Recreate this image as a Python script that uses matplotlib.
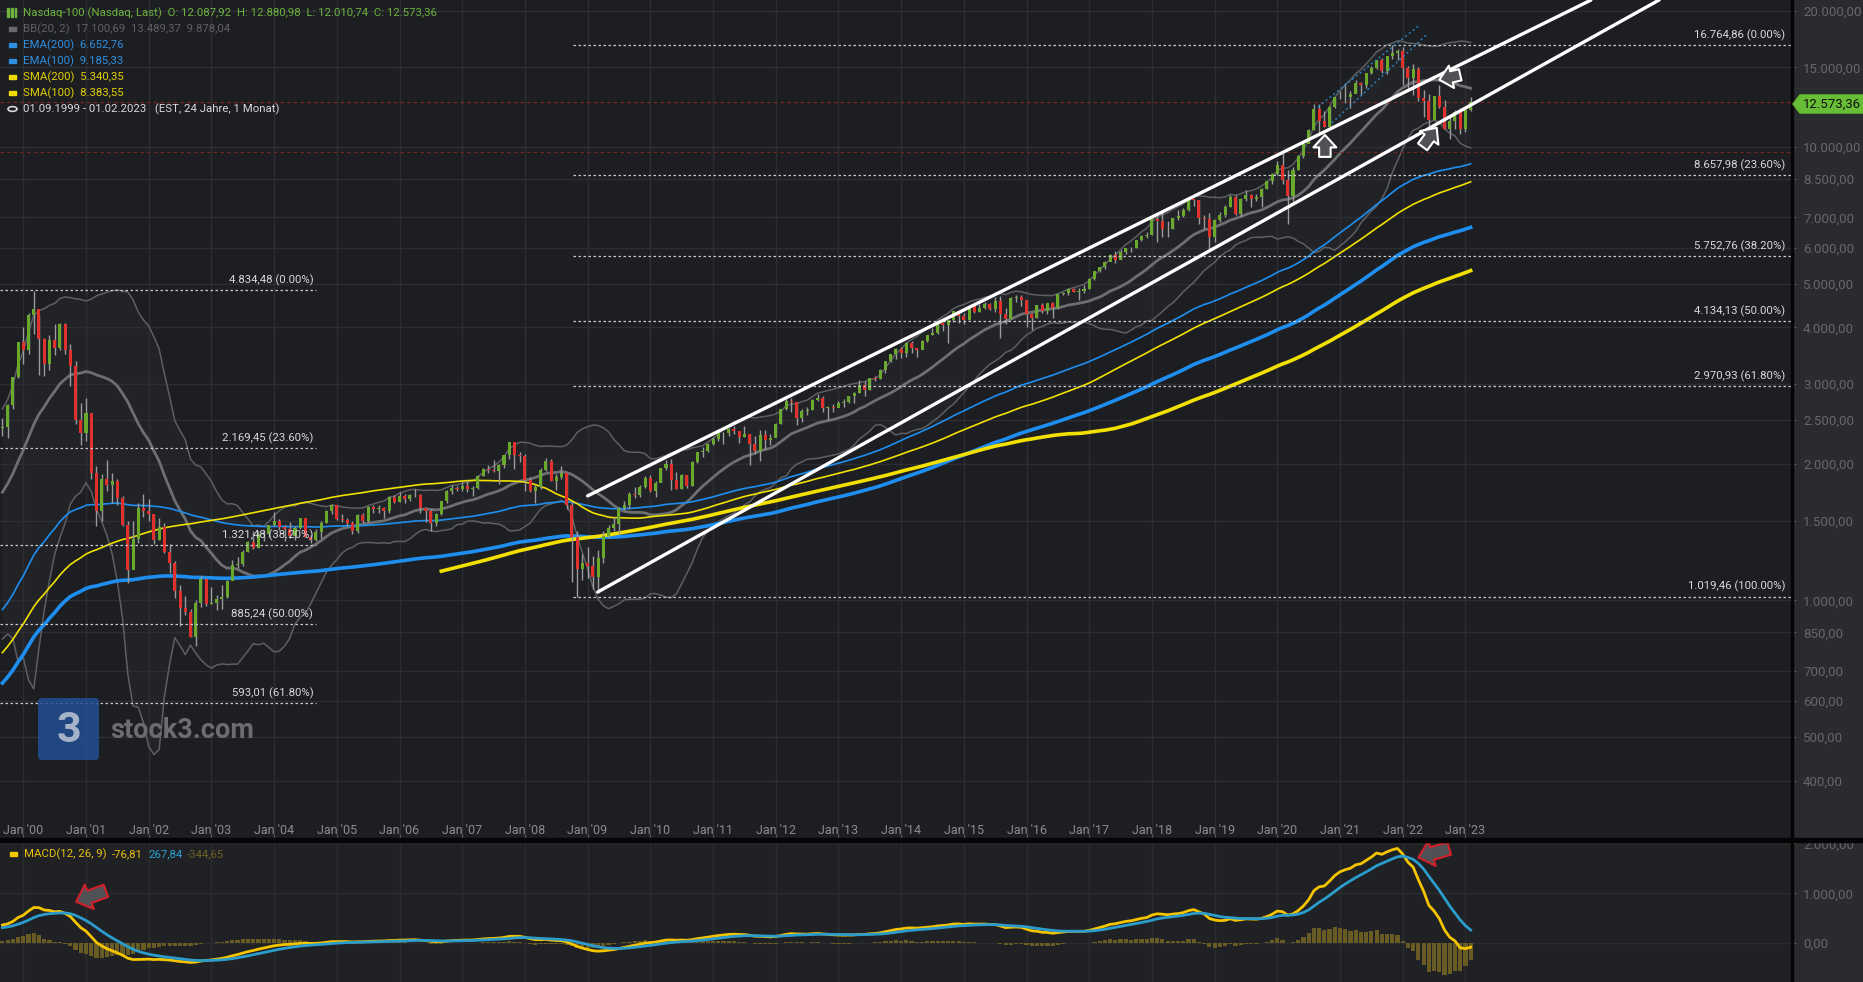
import numpy as np
import pandas as pd
import matplotlib
matplotlib.use("Agg")
import matplotlib.pyplot as plt
from matplotlib.patches import Rectangle, FancyBboxPatch, Circle, Polygon
from matplotlib.ticker import FixedLocator, NullLocator, FuncFormatter

plt.rcParams["font.family"] = ["Roboto", "DejaVu Sans"]

# monthly closes Feb 1990 - Aug 1999, only used to warm up the indicators
close_pre = [
    210, 218, 212, 240, 245, 230, 200, 180, 172, 190, 200,
    225, 245, 258, 255, 265, 245, 262, 275, 272, 285, 280, 330,
    345, 345, 320, 305, 310, 290, 305, 295, 310, 325, 350, 360,
    365, 345, 355, 335, 360, 365, 355, 375, 385, 390, 385, 398,
    415, 410, 385, 380, 380, 355, 365, 390, 395, 415, 400, 405,
    410, 435, 455, 480, 500, 555, 590, 595, 610, 610, 605, 576,
    580, 600, 600, 650, 680, 662, 610, 640, 715, 740, 800, 821,
    905, 830, 785, 860, 945, 955, 1080, 1055, 1085, 1005, 1035, 991,
    1070, 1180, 1220, 1250, 1190, 1338, 1360, 1140, 1345, 1420, 1595, 1836,
    2127, 1948, 2106, 2137, 2091, 2296, 2267, 2396,
]

# Nasdaq-100 monthly candles Sep 1999 - Feb 2023
close = [
    2407, 2697, 3110, 3708,
    3570, 4267, 4397, 3774, 3324, 3763, 3610, 4077, 3570, 3283, 2506, 2341,
    2593, 1908, 1573, 1855, 1799, 1830, 1683, 1469, 1168, 1364, 1596, 1577,
    1550, 1359, 1452, 1277, 1208, 1051, 963, 942, 832, 989, 1116, 984,
    985, 1009, 1018, 1106, 1198, 1201, 1280, 1343, 1304, 1400, 1404, 1468,
    1494, 1452, 1438, 1387, 1444, 1516, 1383, 1361, 1412, 1485, 1573, 1622,
    1515, 1503, 1483, 1425, 1543, 1494, 1605, 1589, 1601, 1578, 1688, 1645,
    1701, 1673, 1704, 1704, 1602, 1575, 1480, 1547, 1655, 1743, 1769, 1757,
    1786, 1757, 1772, 1881, 1946, 1935, 1930, 1990, 2091, 2239, 2090, 2085,
    1841, 1742, 1781, 1943, 2032, 1837, 1872, 1906, 1621, 1379, 1173, 1212,
    1188, 1126, 1237, 1384, 1444, 1477, 1600, 1626, 1719, 1712, 1783, 1860,
    1741, 1818, 1959, 2004, 1845, 1765, 1886, 1785, 2023, 2127, 2132, 2218,
    2267, 2340, 2339, 2394, 2366, 2292, 2330, 2208, 2138, 2322, 2264, 2278,
    2453, 2645, 2755, 2741, 2531, 2616, 2631, 2773, 2800, 2652, 2667, 2661,
    2732, 2738, 2818, 2868, 2985, 2910, 3094, 3074, 3218, 3372, 3488, 3592,
    3521, 3697, 3596, 3563, 3737, 3850, 3896, 4083, 4050, 4159, 4348, 4236,
    4151, 4451, 4334, 4415, 4509, 4397, 4574, 4274, 4181, 4648, 4665, 4593,
    4280, 4202, 4484, 4341, 4524, 4418, 4730, 4772, 4875, 4801, 4811, 4864,
    5118, 5330, 5436, 5584, 5788, 5647, 5880, 5989, 5979, 6248, 6358, 6397,
    6950, 6854, 6582, 6605, 6967, 7040, 7272, 7677, 7628, 6967, 6949, 6330,
    6907, 7096, 7378, 7781, 7128, 7672, 7848, 7692, 7750, 8083, 8403, 8733,
    9151, 8462, 7813, 8890, 9555, 10157, 10905, 12110, 11418, 11052, 12268, 12888,
    12925, 12909, 13091, 13861, 13687, 14554, 14960, 15582, 14689, 15850, 16135, 16320,
    14931, 14237, 14838, 12855, 12642, 11503, 12948, 12272, 10971, 11406, 11951, 10940,
    12102, 12573,
]
high = [
    2530, 2715, 3115, 3710,
    4013, 4300, 4816, 4291, 3800, 3850, 4080, 4100, 4100, 3680, 3370, 2730,
    2800, 2580, 1980, 1900, 2040, 1907, 1850, 1700, 1500, 1500, 1640, 1720,
    1670, 1550, 1520, 1480, 1330, 1220, 1080, 1020, 955, 1000, 1130, 1120,
    1070, 1030, 1080, 1110, 1230, 1245, 1290, 1350, 1422, 1420, 1430, 1470,
    1565, 1515, 1470, 1490, 1460, 1521, 1500, 1395, 1440, 1500, 1585, 1630,
    1625, 1550, 1520, 1500, 1550, 1560, 1615, 1620, 1620, 1610, 1700, 1710,
    1730, 1720, 1720, 1758, 1715, 1610, 1590, 1560, 1660, 1748, 1795, 1785,
    1820, 1830, 1790, 1890, 1955, 1990, 2040, 1995, 2095, 2239, 2215, 2130,
    2100, 1870, 1795, 1960, 2066, 2050, 1900, 1980, 1905, 1650, 1420, 1265,
    1310, 1250, 1290, 1420, 1470, 1530, 1605, 1660, 1735, 1780, 1800, 1880,
    1895, 1830, 1960, 2040, 2050, 1920, 1900, 1890, 2030, 2130, 2180, 2220,
    2290, 2380, 2350, 2400, 2430, 2370, 2420, 2330, 2300, 2380, 2380, 2330,
    2460, 2650, 2780, 2795, 2735, 2640, 2665, 2785, 2860, 2825, 2685, 2710,
    2750, 2775, 2820, 2880, 3060, 3040, 3100, 3120, 3240, 3373, 3492, 3600,
    3625, 3710, 3740, 3610, 3750, 3850, 3999, 4083, 4120, 4160, 4350, 4350,
    4300, 4470, 4480, 4500, 4550, 4530, 4680, 4690, 4420, 4660, 4720, 4720,
    4590, 4300, 4490, 4530, 4530, 4560, 4740, 4800, 4900, 4900, 4880, 4965,
    5150, 5340, 5450, 5605, 5800, 5900, 5930, 6000, 6010, 6250, 6400, 6490,
    7020, 7030, 7180, 6860, 6980, 7280, 7330, 7690, 7700, 7630, 7080, 7150,
    6950, 7190, 7450, 7850, 7850, 7720, 8030, 7880, 7900, 8110, 8420, 8780,
    9300, 9720, 8920, 9050, 9600, 10300, 10990, 12430, 12440, 12000, 12300, 12900,
    13300, 13880, 13300, 14060, 13950, 14580, 15080, 15600, 15700, 15850, 16770, 16500,
    16600, 15100, 15270, 15000, 13380, 13100, 12990, 13720, 12700, 11700, 12050, 12170,
    12170, 12881,
]
low = [
    2300, 2280, 2650, 3100,
    3330, 3500, 3870, 3150, 3120, 3230, 3480, 3560, 3500, 2970, 2450, 2200,
    2250, 1850, 1460, 1500, 1740, 1640, 1620, 1460, 1090, 1170, 1340, 1530,
    1500, 1330, 1360, 1270, 1150, 1010, 880, 930, 830, 795, 965, 970,
    980, 950, 955, 1010, 1110, 1180, 1190, 1280, 1300, 1302, 1350, 1380,
    1460, 1430, 1350, 1370, 1360, 1440, 1380, 1340, 1355, 1370, 1480, 1550,
    1505, 1490, 1460, 1400, 1405, 1480, 1490, 1560, 1560, 1520, 1560, 1640,
    1645, 1640, 1660, 1690, 1560, 1490, 1425, 1462, 1540, 1640, 1720, 1740,
    1740, 1735, 1700, 1765, 1880, 1910, 1920, 1810, 1960, 2050, 1950, 2020,
    1740, 1730, 1640, 1760, 1930, 1830, 1755, 1850, 1590, 1100, 1018, 1110,
    1120, 1060, 1040, 1210, 1370, 1420, 1400, 1580, 1590, 1680, 1690, 1770,
    1730, 1690, 1820, 1940, 1750, 1760, 1760, 1770, 1790, 2010, 2070, 2130,
    2200, 2250, 2210, 2310, 2325, 2220, 2290, 1990, 2100, 2030, 2160, 2200,
    2300, 2450, 2630, 2600, 2440, 2480, 2560, 2630, 2750, 2600, 2500, 2600,
    2670, 2670, 2720, 2730, 2865, 2830, 2905, 3050, 3080, 3178, 3350, 3400,
    3420, 3450, 3520, 3440, 3580, 3720, 3850, 3870, 3930, 3700, 4120, 4100,
    4080, 4150, 4300, 4330, 4400, 4380, 4320, 3790, 4080, 4170, 4560, 4460,
    4000, 3950, 4200, 4300, 4280, 4200, 4400, 4720, 4720, 4780, 4610, 4770,
    4870, 5100, 5300, 5380, 5600, 5550, 5660, 5800, 5880, 6000, 6210, 6300,
    6400, 6170, 6350, 6350, 6600, 6900, 7000, 7240, 7430, 6780, 6590, 5900,
    6180, 6850, 7000, 7380, 7070, 7000, 7600, 7370, 7600, 7360, 8090, 8300,
    8700, 8300, 6770, 7620, 8900, 9470, 10280, 10900, 10800, 11050, 11000, 12200,
    12750, 12500, 12200, 13180, 13000, 13500, 14470, 14880, 14600, 14500, 15670, 15550,
    13720, 13300, 13020, 12650, 11650, 11040, 11480, 12200, 10970, 10440, 10990, 10670,
    10780, 12011,
]

# fibonacci retracements drawn on the chart
fib_left_vals = [4834.48, 2169.45, 1321.48, 885.24, 593.01]
fib_left_pct = ["0.00%", "23.60%", "38.20%", "50.00%", "61.80%"]
fib_right_vals = [16764.86, 8657.98, 5752.76, 4134.13, 2970.93, 1019.46]
fib_right_pct = ["0.00%", "23.60%", "38.20%", "50.00%", "61.80%", "100.00%"]

# trend channel anchors (decimal year, price)
chan_up = [(2009.0, 1700), (2025.0, 21100)]
chan_lo = [(2009.16, 1043), (2026.09, 21120)]
blue_up = [(2020.65, 12270), (2022.27, 18600)]
blue_lo = [(2020.87, 11310), (2022.38, 17690)]

last_price = 12573.36
yticks_main = [400, 500, 600, 700, 850, 1000, 1500, 2000, 2500, 3000, 4000,
               5000, 6000, 7000, 8500, 10000, 15000, 20000]
yticks_macd = [0, 1000, 2000]

BG = "#1c1e22"
BG_MACD = "#202124"
STRIP = "#2a2b2f"
GRID = "#2c2e33"
GREEN = "#6aa92c"
RED = "#e2312d"
BLUE = "#1e8ff0"
YELLOW = "#f2e000"
W, H = 1863, 982


def de(v, pos=None):
    s = f"{v:,.2f}"
    return s.replace(",", "X").replace(".", ",").replace("X", ".")


def m(year):
    return (year - 2000) * 12


# ---- indicators from the closes
n_pre = len(close_pre)
s = pd.Series(close_pre + close, dtype=float)
xs_all = np.arange(len(s)) - n_pre - 4
sma100 = s.rolling(100).mean()
sma200 = s.rolling(200).mean()
ema100 = s.ewm(span=100, adjust=False).mean()
ema200 = s.ewm(span=200, adjust=False).mean()
bb_mid = s.rolling(20).mean()
bb_sd = s.rolling(20).std(ddof=0)
bb_up = bb_mid + 2 * bb_sd
bb_lo = bb_mid - 2 * bb_sd
macd = s.ewm(span=12, adjust=False).mean() - s.ewm(span=26, adjust=False).mean()
signal = macd.ewm(span=9, adjust=False).mean()
hist = macd - signal

vis = slice(n_pre, None)
x = xs_all[vis]
c = np.array(close, float)
o = s.values[n_pre - 1:-1]
hi = np.array(high, float)
lo = np.array(low, float)

# ---- figure layout
fig = plt.figure(figsize=(W / 100, H / 100), dpi=100, facecolor=STRIP)
ax = fig.add_axes([0, 1 - 838 / H, 1792 / W, 838 / H])
mx = fig.add_axes([0, 0, 1792 / W, 141 / H])
ax.set_facecolor(BG)
mx.set_facecolor(BG_MACD)
XL = (-4.46, 338.5)

# ---- main panel
ax.set_yscale("log")
ax.set_xlim(*XL)
ax.set_ylim(299, 21115)

ax.fill_between(x, bb_lo[vis], bb_up[vis], color="white", alpha=0.025, lw=0, zorder=1)
ax.plot(x, bb_up[vis], color="#5d5f62", lw=1.1, zorder=2)
ax.plot(x, bb_lo[vis], color="#5d5f62", lw=1.1, zorder=2)
ax.plot(x, bb_mid[vis], color="#6e6f71", lw=2.0, zorder=2)

ax.plot(x, ema200[vis], color=BLUE, lw=2.6, zorder=3)
ax.plot(x, ema100[vis], color=BLUE, lw=1.2, zorder=3)
ax.plot(x, sma200[vis], color=YELLOW, lw=2.6, zorder=3)
ax.plot(x, sma100[vis], color=YELLOW, lw=1.2, zorder=3)

up = c >= o
ax.vlines(x, lo, hi, color="#9a9b9d", lw=1.0, zorder=4)
ax.bar(x[up], (c - o)[up], bottom=o[up], width=0.58, color=GREEN, zorder=5)
ax.bar(x[~up], (o - c)[~up], bottom=c[~up], width=0.58, color=RED, zorder=5)

# fibonacci lines
left_end = m(2004.67)
for v, p in zip(fib_left_vals, fib_left_pct):
    ax.hlines(v, XL[0], left_end, colors="#c9cacc", lw=0.9, linestyles=(0, (2, 2)), zorder=6)
    ax.annotate(f"{de(v)} ({p})", (left_end, v), xytext=(-2, 3), textcoords="offset points",
                ha="right", va="bottom", color="#d8d9db", fontsize=8.2, zorder=7)
right_start = m(2008.76)
for v, p in zip(fib_right_vals, fib_right_pct):
    ax.hlines(v, right_start, XL[1], colors="#c9cacc", lw=0.9, linestyles=(0, (2, 2)), zorder=6)
    ax.annotate(f"{de(v)} ({p})", (1, v), xycoords=("axes fraction", "data"), xytext=(-5, 3),
                textcoords="offset points", ha="right", va="bottom", color="#d8d9db",
                fontsize=8.2, zorder=7)

# price lines
ax.axhline(last_price, color="#8c2626", lw=0.8, ls=(0, (3, 3)), zorder=2)
ax.axhline(9760, color="#7a2424", lw=0.8, ls=(0, (3, 3)), zorder=2)

# channels
for (y0, p0), (y1, p1) in (chan_up, chan_lo):
    ax.plot([m(y0), m(y1)], [p0, p1], color="white", lw=2.4, zorder=8, solid_capstyle="round")
for (y0, p0), (y1, p1) in (blue_up, blue_lo):
    ax.plot([m(y0), m(y1)], [p0, p1], color="#2b86c8", lw=1.0, ls=(0, (1.5, 2)), zorder=6)


def block_arrow(a, tail, tip, fc, ec, ms):
    a.annotate("", xy=tip, xytext=tail, annotation_clip=False, zorder=9,
               arrowprops=dict(arrowstyle="simple,head_length=0.6,head_width=1.1,tail_width=0.55",
                               fc=fc, ec=ec, lw=1.5, shrinkA=0, shrinkB=0, mutation_scale=ms))


block_arrow(ax, (249.1, 9515), (249.1, 10640), "#505155", "white", 15)
block_arrow(ax, (275.0, 14440), (271.0, 14085), "#505155", "white", 15)
block_arrow(ax, (267.8, 10015), (270.5, 11030), "#505155", "white", 15)

# axes styling
ax.yaxis.set_major_locator(FixedLocator(yticks_main))
ax.yaxis.set_minor_locator(NullLocator())
ax.yaxis.set_major_formatter(FuncFormatter(de))
ax.yaxis.tick_right()
ax.tick_params(axis="y", direction="out", length=3, pad=5, labelsize=9.5,
               colors="#55575c", labelcolor="#65676c")
ax.set_xticks(range(0, 277, 12))
ax.set_xticklabels([f"Jan '{(2000 + i) % 100:02d}" for i in range(24)])
ax.tick_params(axis="x", direction="in", length=3, pad=-10, labelsize=9,
               colors="#55575c", labelcolor="#8a8c90")
ax.grid(True, color=GRID, lw=1.0, zorder=0)
for sp in ax.spines.values():
    sp.set_visible(False)

# price tag on the axis strip
ty = 1 - 104 / H
fig.add_artist(Polygon(
    [(1793 / W, ty), (1800 / W, ty + 9 / H), (1863 / W, ty + 9 / H),
     (1863 / W, ty - 9 / H), (1800 / W, ty - 9 / H)],
    closed=True, transform=fig.transFigure, color="#67bd35", zorder=12))
fig.text(1832 / W, ty, de(last_price), ha="center", va="center", fontsize=9.5,
         color="#111111", zorder=13)

# ---- MACD panel
mx.set_xlim(*XL)
mx.set_ylim(-777, 2050)
mx.bar(x, hist[vis], width=0.8, color="#6d6024", alpha=0.95, zorder=2)
mx.plot(x, macd[vis], color="#f5c400", lw=2.0, zorder=3)
mx.plot(x, signal[vis], color="#2b9ccc", lw=2.0, zorder=3)
mx.yaxis.set_major_locator(FixedLocator(yticks_macd))
mx.yaxis.set_major_formatter(FuncFormatter(de))
mx.yaxis.tick_right()
mx.tick_params(axis="y", direction="out", length=3, pad=5, labelsize=9.5,
               colors="#55575c", labelcolor="#65676c")
mx.set_xticks(range(0, 277, 12))
mx.tick_params(axis="x", length=0, labelbottom=False)
mx.grid(True, color="#2b2c30", lw=1.0, zorder=0)
for sp in mx.spines.values():
    sp.set_visible(False)
block_arrow(mx, (15.8, 1052), (10.1, 832), "#505155", "#d0202a", 17)
block_arrow(mx, (272.9, 1900), (267.0, 1720), "#505155", "#d0202a", 17)

# separators
fig.add_artist(Rectangle((0, 1 - 842 / H), 1, 4 / H, transform=fig.transFigure, color="#050505", zorder=10))
fig.add_artist(Rectangle((1791 / W, 0), 2 / W, 1, transform=fig.transFigure, color="#050505", zorder=10))


# ---- legend texts
def ftxt(px, py, t, col, size=8.2, **kw):
    fig.text(px / W, 1 - py / H, t, color=col, fontsize=size, va="center", ha="left", zorder=13, **kw)


def dash(px, py, col):
    fig.add_artist(Rectangle((px / W, 1 - (py + 2) / H), 7 / W, 4 / H,
                             transform=fig.transFigure, color=col, zorder=10))


for xx in [7.5, 11, 14.5]:
    fig.add_artist(Rectangle((xx / W, 1 - 17 / H), 1.6 / W, 9 / H, transform=fig.transFigure,
                             color="#6db33f", zorder=10))
ftxt(23, 13, "Nasdaq-100 (Nasdaq, Last)  O: 12.087,92  H: 12.880,98  L: 12.010,74  C: 12.573,36", "#6db33f")
dash(9, 29, "#6a6b6e")
ftxt(23, 29, "BB(20, 2)  17.100,69  13.489,37  9.878,04", "#5e6064")
dash(9, 45, "#2f8fe0")
ftxt(23, 45, "EMA(200)  6.652,76", "#2f8fe0")
dash(9, 61, "#2f8fe0")
ftxt(23, 61, "EMA(100)  9.185,33", "#2f8fe0")
dash(9, 77, "#f0dc00")
ftxt(23, 77, "SMA(200)  5.340,35", "#e3cf00")
dash(9, 93, "#f0dc00")
ftxt(23, 93, "SMA(100)  8.383,55", "#e3cf00")
fig.add_artist(Circle((12.5 / W, 1 - 109 / H), 4.5 / W, transform=fig.transFigure,
                      fill=False, ec="#d8d8d8", lw=1.2, zorder=10))
ftxt(23, 109, "01.09.1999 - 01.02.2023   (EST, 24 Jahre, 1 Monat)", "#d8d8d8")

dash(10, 854, "#f0c800")
ftxt(24, 854, "MACD(12, 26, 9)", "#e8c010")
ftxt(112, 854, "-76,81", "#e8c010")
ftxt(148, 854, "267,84", "#2a9fd0")
ftxt(187, 854, "-344,65", "#6f6228")

# ---- watermark
fig.patches.append(FancyBboxPatch((38, H - 760), 61, 62, boxstyle="round,pad=0,rounding_size=4",
                                  transform=None, fc="#234f94", ec="none", alpha=0.85, zorder=9))
fig.text(68.5 / W, 1 - 731 / H, "3", ha="center", va="center", fontsize=31, fontweight="bold",
         color="#a5b3c8", zorder=11)
fig.text(110 / W, 1 - 731 / H, "stock3.com", ha="left", va="center", fontsize=19.5,
         fontweight="bold", color="#6b6d70", zorder=11)

fig.savefig("out.png", dpi=100, facecolor=fig.get_facecolor())
